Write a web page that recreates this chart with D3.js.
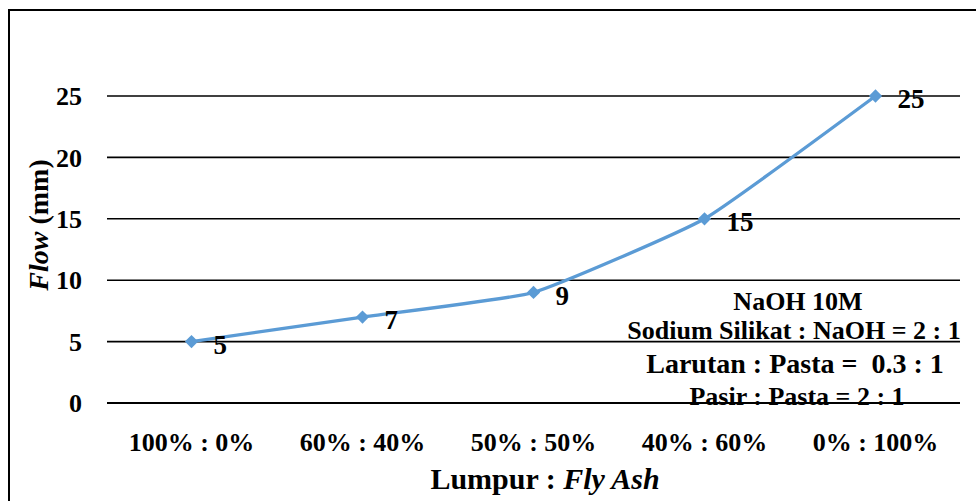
<!DOCTYPE html>
<html><head><meta charset="utf-8">
<script src="https://cdn.jsdelivr.net/npm/d3@7"></script>
<style>body{margin:0;background:#fff}svg{display:block;font-family:"Liberation Serif","Times New Roman",serif;font-weight:bold}</style>
</head><body><svg id="c" width="976" height="501"></svg>
<script>
const categories = ["100% : 0%", "60% : 40%", "50% : 50%", "40% : 60%", "0% : 100%"];
const flowValues = [5, 7, 9, 15, 25];
const yTicks = [0, 5, 10, 15, 20, 25];
const notes = ["NaOH 10M", "Sodium Silikat : NaOH = 2 : 1", "Larutan : Pasta =\u00a0 0.3 : 1", "Pasir : Pasta = 2 : 1"];

const svg = d3.select("#c");
svg.append("rect").attr("x", 9).attr("y", 10).attr("width", 980).attr("height", 500)
  .attr("fill", "none").attr("stroke", "#000").attr("stroke-width", 2);

const x = d3.scaleBand().domain(categories).range([106, 961]);
const y = d3.scaleLinear().domain([0, 25]).range([403, 96]);

// annotation text (under gridlines)
const noteY = [301, 330, 363, 396];
const noteSize = [26, 26, 28, 26];
const noteX = [798, 794, 795, 797];
notes.forEach((t, i) => {
  svg.append("text").attr("x", noteX[i]).attr("y", noteY[i]).attr("dy", "0.35em")
    .attr("text-anchor", "middle").attr("font-size", noteSize[i]).text(t);
});

// gridlines
svg.append("g").selectAll("line").data(yTicks).join("line")
  .attr("x1", 107).attr("x2", 960)
  .attr("y1", d => y(d)).attr("y2", d => y(d))
  .attr("stroke", "#000").attr("stroke-width", d => d === 0 ? 2 : 1.6);

// y labels
svg.append("g").selectAll("text").data(yTicks).join("text")
  .attr("x", 82).attr("y", d => y(d)).attr("dy", "0.35em")
  .attr("text-anchor", "end").attr("font-size", 26).text(d => d);

// x labels
svg.append("g").selectAll("text").data(categories).join("text")
  .attr("x", d => x(d) + x.bandwidth() / 2).attr("y", 442).attr("dy", "0.35em")
  .attr("text-anchor", "middle").attr("font-size", 26).text(d => d);

// axis titles
const xt = svg.append("text").attr("x", 545).attr("y", 478).attr("dy", "0.35em")
  .attr("text-anchor", "middle").attr("font-size", 30);
xt.append("tspan").text("Lumpur : ");
xt.append("tspan").attr("font-style", "italic").text("Fly Ash");

const yt = svg.append("text").attr("transform", "translate(38,225) rotate(-90)").attr("dy", "0.35em")
  .attr("text-anchor", "middle").attr("font-size", 28);
yt.append("tspan").attr("font-style", "italic").text("Flow");
yt.append("tspan").text(" (mm)");

// line
const px = (d, i) => x(categories[i]) + x.bandwidth() / 2;
svg.append("path").datum(flowValues)
  .attr("d", d3.line().x(px).y(d => y(d)).curve(d3.curveCardinal.tension(0.6)))
  .attr("fill", "none").attr("stroke", "#5B9BD5").attr("stroke-width", 3.3);

svg.append("g").selectAll("path").data(flowValues).join("path")
  .attr("d", d3.symbol(d3.symbolSquare, 88))
  .attr("transform", (d, i) => `translate(${px(d, i)},${y(d)}) rotate(45)`)
  .attr("fill", "#5B9BD5");

// data labels
svg.append("g").selectAll("text").data(flowValues).join("text")
  .attr("x", (d, i) => px(d, i) + 22).attr("y", d => y(d) + 3).attr("dy", "0.35em")
  .attr("font-size", 27).text(d => d);
</script></body></html>
